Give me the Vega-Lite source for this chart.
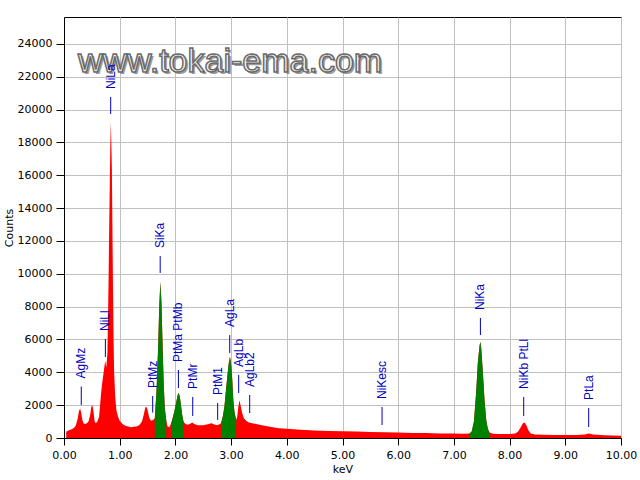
{
  "$schema": "https://vega.github.io/schema/vega-lite/v6.json",
  "autosize": {"type": "none"},
  "width": 557,
  "height": 421,
  "padding": {"left": 64, "top": 17, "right": 19, "bottom": 42},
  "background": "white",
  "config": {
    "view": {"stroke": "black", "strokeWidth": 1},
    "axis": {
      "labelFont": "DejaVu Sans", "labelFontSize": 11, "labelColor": "black", "labelOverlap": false,
      "titleFont": "DejaVu Sans", "titleFontSize": 11, "titleFontWeight": "normal", "titleColor": "black",
      "domainColor": "black", "tickColor": "black", "gridColor": "#c0c0c0", "gridOpacity": 1
    }
  },
  "datasets": {
    "spectrum": [
      {"e": 0.04, "c": 380}, {"e": 0.06, "c": 420}, {"e": 0.10, "c": 480}, {"e": 0.14, "c": 540},
      {"e": 0.18, "c": 620}, {"e": 0.21, "c": 750}, {"e": 0.24, "c": 1100}, {"e": 0.27, "c": 1650},
      {"e": 0.29, "c": 1800}, {"e": 0.31, "c": 1500}, {"e": 0.33, "c": 1100}, {"e": 0.35, "c": 900},
      {"e": 0.38, "c": 850}, {"e": 0.41, "c": 900}, {"e": 0.44, "c": 1000}, {"e": 0.47, "c": 1400},
      {"e": 0.49, "c": 1900}, {"e": 0.51, "c": 2000}, {"e": 0.53, "c": 1600}, {"e": 0.55, "c": 1000},
      {"e": 0.57, "c": 900}, {"e": 0.60, "c": 1000}, {"e": 0.63, "c": 1300}, {"e": 0.66, "c": 2500},
      {"e": 0.68, "c": 3200}, {"e": 0.70, "c": 3700}, {"e": 0.72, "c": 4200}, {"e": 0.74, "c": 4700},
      {"e": 0.76, "c": 4300}, {"e": 0.78, "c": 5200}, {"e": 0.80, "c": 9500}, {"e": 0.81, "c": 12500},
      {"e": 0.82, "c": 15000}, {"e": 0.83, "c": 17500}, {"e": 0.84, "c": 19250}, {"e": 0.85, "c": 18000},
      {"e": 0.86, "c": 16300}, {"e": 0.87, "c": 12500}, {"e": 0.88, "c": 9000}, {"e": 0.89, "c": 6000},
      {"e": 0.90, "c": 4000}, {"e": 0.92, "c": 2500}, {"e": 0.94, "c": 1700}, {"e": 0.97, "c": 1300},
      {"e": 1.00, "c": 1050}, {"e": 1.05, "c": 850}, {"e": 1.10, "c": 750}, {"e": 1.15, "c": 700},
      {"e": 1.20, "c": 650}, {"e": 1.25, "c": 680}, {"e": 1.30, "c": 700}, {"e": 1.35, "c": 780},
      {"e": 1.40, "c": 1000}, {"e": 1.43, "c": 1400}, {"e": 1.46, "c": 1850}, {"e": 1.48, "c": 1900},
      {"e": 1.50, "c": 1700}, {"e": 1.53, "c": 1250}, {"e": 1.56, "c": 1050}, {"e": 1.60, "c": 1100},
      {"e": 1.63, "c": 1200, "roi": "SiKa"}, {"e": 1.66, "c": 2800, "roi": "SiKa"}, {"e": 1.69, "c": 5500, "roi": "SiKa"},
      {"e": 1.71, "c": 8000, "roi": "SiKa"}, {"e": 1.73, "c": 9500, "roi": "SiKa"}, {"e": 1.75, "c": 8200, "roi": "SiKa"},
      {"e": 1.77, "c": 5600, "roi": "SiKa"}, {"e": 1.79, "c": 3300, "roi": "SiKa"}, {"e": 1.81, "c": 1800, "roi": "SiKa"},
      {"e": 1.835, "c": 1100, "roi": "SiKa"},
      {"e": 1.86, "c": 700}, {"e": 1.89, "c": 650},
      {"e": 1.925, "c": 900, "roi": "PtM"}, {"e": 1.95, "c": 1200, "roi": "PtM"}, {"e": 1.98, "c": 1600, "roi": "PtM"},
      {"e": 2.01, "c": 2100, "roi": "PtM"}, {"e": 2.04, "c": 2600, "roi": "PtM"}, {"e": 2.06, "c": 2750, "roi": "PtM"},
      {"e": 2.08, "c": 2500, "roi": "PtM"}, {"e": 2.10, "c": 2000, "roi": "PtM"}, {"e": 2.12, "c": 1450, "roi": "PtM"},
      {"e": 2.145, "c": 1000, "roi": "PtM"},
      {"e": 2.18, "c": 850}, {"e": 2.22, "c": 800}, {"e": 2.26, "c": 850}, {"e": 2.30, "c": 950},
      {"e": 2.34, "c": 850}, {"e": 2.40, "c": 780}, {"e": 2.50, "c": 780}, {"e": 2.60, "c": 850},
      {"e": 2.65, "c": 900}, {"e": 2.70, "c": 820}, {"e": 2.75, "c": 780}, {"e": 2.80, "c": 850},
      {"e": 2.82, "c": 900, "roi": "AgLa"}, {"e": 2.85, "c": 1300, "roi": "AgLa"}, {"e": 2.88, "c": 1900, "roi": "AgLa"},
      {"e": 2.91, "c": 3000, "roi": "AgLa"}, {"e": 2.94, "c": 4000, "roi": "AgLa"}, {"e": 2.96, "c": 4600, "roi": "AgLa"},
      {"e": 2.98, "c": 4950, "roi": "AgLa"}, {"e": 3.00, "c": 4500, "roi": "AgLa"}, {"e": 3.02, "c": 3600, "roi": "AgLa"},
      {"e": 3.04, "c": 2300, "roi": "AgLa"}, {"e": 3.06, "c": 1600, "roi": "AgLa"}, {"e": 3.09, "c": 1100, "roi": "AgLa"},
      {"e": 3.11, "c": 1300}, {"e": 3.13, "c": 1900}, {"e": 3.15, "c": 2300}, {"e": 3.17, "c": 2000},
      {"e": 3.20, "c": 1500}, {"e": 3.23, "c": 1200}, {"e": 3.27, "c": 1050}, {"e": 3.32, "c": 950},
      {"e": 3.38, "c": 900}, {"e": 3.45, "c": 850}, {"e": 3.55, "c": 780}, {"e": 3.70, "c": 680},
      {"e": 3.85, "c": 600}, {"e": 4.00, "c": 560}, {"e": 4.25, "c": 500}, {"e": 4.50, "c": 460},
      {"e": 4.75, "c": 430}, {"e": 5.00, "c": 410}, {"e": 5.25, "c": 390}, {"e": 5.50, "c": 370},
      {"e": 5.75, "c": 350}, {"e": 6.00, "c": 330}, {"e": 6.25, "c": 310}, {"e": 6.50, "c": 300},
      {"e": 6.75, "c": 280}, {"e": 7.00, "c": 270}, {"e": 7.15, "c": 260},
      {"e": 7.28, "c": 270, "roi": "NiKa"}, {"e": 7.32, "c": 400, "roi": "NiKa"}, {"e": 7.36, "c": 1000, "roi": "NiKa"},
      {"e": 7.40, "c": 2800, "roi": "NiKa"}, {"e": 7.43, "c": 4600, "roi": "NiKa"}, {"e": 7.46, "c": 5600, "roi": "NiKa"},
      {"e": 7.475, "c": 5860, "roi": "NiKa"}, {"e": 7.49, "c": 5500, "roi": "NiKa"}, {"e": 7.52, "c": 4000, "roi": "NiKa"},
      {"e": 7.55, "c": 2300, "roi": "NiKa"}, {"e": 7.58, "c": 1100, "roi": "NiKa"}, {"e": 7.61, "c": 550, "roi": "NiKa"},
      {"e": 7.64, "c": 330, "roi": "NiKa"},
      {"e": 7.70, "c": 260}, {"e": 7.80, "c": 250}, {"e": 7.90, "c": 240}, {"e": 8.00, "c": 240},
      {"e": 8.10, "c": 270}, {"e": 8.15, "c": 380}, {"e": 8.20, "c": 650}, {"e": 8.24, "c": 900},
      {"e": 8.27, "c": 950}, {"e": 8.30, "c": 780}, {"e": 8.34, "c": 450}, {"e": 8.38, "c": 280},
      {"e": 8.45, "c": 220}, {"e": 8.60, "c": 200}, {"e": 8.80, "c": 190}, {"e": 9.00, "c": 180},
      {"e": 9.20, "c": 180}, {"e": 9.35, "c": 220}, {"e": 9.42, "c": 270}, {"e": 9.50, "c": 220},
      {"e": 9.70, "c": 170}, {"e": 9.85, "c": 150}, {"e": 10.00, "c": 140}
    ],
    "labels": [
      {"label": "AgMz", "e": 0.31, "top": 3136, "bottom": 2010},
      {"label": "NiLl", "e": 0.743, "top": 6030, "bottom": 4930},
      {"label": "NiLa", "e": 0.838, "top": 20770, "bottom": 19730},
      {"label": "PtMz", "e": 1.592, "top": 2560, "bottom": 1550},
      {"label": "SiKa", "e": 1.727, "top": 11080, "bottom": 10050},
      {"label": "PtMa PtMb", "e": 2.054, "top": 4140, "bottom": 3045},
      {"label": "PtMr", "e": 2.311, "top": 2500, "bottom": 1340},
      {"label": "PtM1", "e": 2.759, "top": 2130, "bottom": 1100},
      {"label": "AgLa", "e": 2.975, "top": 6270, "bottom": 5180},
      {"label": "AgLb", "e": 3.136, "top": 3840, "bottom": 2740},
      {"label": "AgLb2", "e": 3.334, "top": 2620, "bottom": 1520},
      {"label": "NiKesc", "e": 5.71, "top": 1890, "bottom": 790},
      {"label": "NiKa", "e": 7.476, "top": 7310, "bottom": 6270},
      {"label": "NiKb PtLl", "e": 8.253, "top": 2500, "bottom": 1340},
      {"label": "PtLa", "e": 9.42, "top": 1830, "bottom": 670}
    ],
    "mark": [{"site": "www.tokai-ema.com"}]
  },
  "encoding": {
    "x": {"type": "quantitative", "title": "keV",
          "scale": {"domain": [0, 10], "nice": false, "zero": false},
          "axis": {"values": [0,1,2,3,4,5,6,7,8,9,10], "format": ".2f", "tickSize": 7, "labelPadding": 4, "titlePadding": 3, "labelFlush": false, "labelOverlap": false}},
    "y": {"type": "quantitative", "title": "Counts", "stack": null,
          "scale": {"domain": [0, 25640], "nice": false},
          "axis": {"values": [0,2000,4000,6000,8000,10000,12000,14000,16000,18000,20000,22000,24000], "format": "d", "tickSize": 8, "labelPadding": 4, "titlePadding": 3, "labelOverlap": false, "tickCount": 13}}
  },
  "layer": [
    {
      "data": {"name": "spectrum"},
      "mark": {"type": "area", "color": "#ff0000", "interpolate": "linear"},
      "encoding": {"x": {"field": "e"}, "y": {"field": "c"}}
    },
    {
      "data": {"name": "spectrum"},
      "transform": [{"filter": "isValid(datum.roi)"}],
      "mark": {"type": "area", "color": "#008000"},
      "encoding": {"x": {"field": "e"}, "y": {"field": "c"}, "detail": {"field": "roi", "type": "nominal"}}
    },
    {
      "data": {"name": "mark"},
      "mark": {"type": "text", "font": "Liberation Sans", "fontSize": 34, "align": "left", "baseline": "alphabetic", "color": "#9a9a9a", "dx": 2, "dy": 2},
      "encoding": {"x": {"datum": 0.25}, "y": {"datum": 22290}, "text": {"field": "site", "type": "nominal"}}
    },
    {
      "data": {"name": "mark"},
      "mark": {"type": "text", "font": "Liberation Sans", "fontSize": 34, "align": "left", "baseline": "alphabetic", "fill": "#f6f6f6", "stroke": "#6a6a6a", "strokeWidth": 1.5},
      "encoding": {"x": {"datum": 0.25}, "y": {"datum": 22290}, "text": {"field": "site", "type": "nominal"}}
    },
    {
      "data": {"name": "labels"},
      "mark": {"type": "rule", "color": "#0000c0", "strokeWidth": 1},
      "encoding": {"x": {"field": "e"}, "y": {"field": "top"}, "y2": {"field": "bottom"}}
    },
    {
      "data": {"name": "labels"},
      "mark": {"type": "text", "color": "#0000c0", "angle": 270, "align": "left", "baseline": "middle", "dx": 8, "font": "Liberation Sans", "fontSize": 12},
      "encoding": {"x": {"field": "e"}, "y": {"field": "top"}, "text": {"field": "label", "type": "nominal"}}
    }
  ]
}
